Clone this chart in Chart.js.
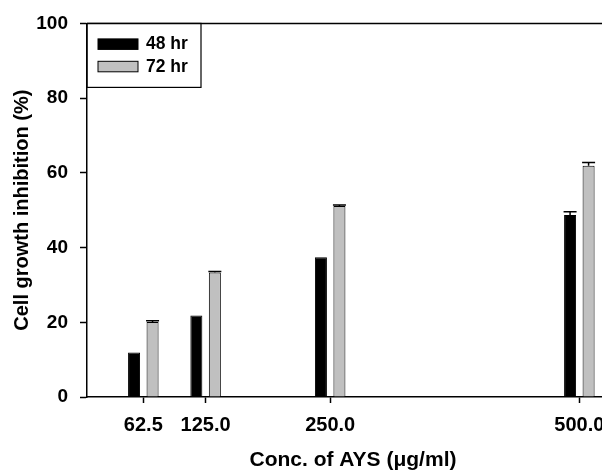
<!DOCTYPE html>
<html>
<head>
<meta charset="utf-8">
<script src="https://cdn.jsdelivr.net/npm/chart.js@4/dist/chart.umd.min.js"></script>
<style>
  html, body { margin: 0; padding: 0; overflow: hidden; background: #fff; width: 602px; height: 473px; }
  #wrap { width: 630px; height: 473px; position: relative; }
</style>
</head>
<body>
<div id="wrap"><canvas id="c"></canvas></div>
<script>
// ---- data ----
const concentrations = [62.5, 125.0, 250.0, 500.0];
const xTickValues = [62.5, 125.0, 250.0, 500.0];
const yTickValues = [0, 20, 40, 60, 80, 100];
const series48Label = '48 hr';
const series72Label = '72 hr';
const inhibition48 = [11.9, 21.8, 37.4, 48.7];
const inhibition72 = [20.1, 33.3, 51.1, 61.9];
const error48 = [0, 0, 0, 0.9];
const error72 = [0.3, 0.3, 0.3, 0.9];
const xTitle = 'Conc. of AYS (\u03bcg/ml)';
const yTitle = 'Cell growth inhibition (%)';

const FONT = "'Liberation Sans', Arial, sans-serif";

const errorBarPlugin = {
  id: 'errorBars',
  afterDatasetsDraw(chart) {
    const ctx = chart.ctx;
    const yScale = chart.scales.y;
    chart.data.datasets.forEach((ds, di) => {
      const meta = chart.getDatasetMeta(di);
      meta.data.forEach((el, i) => {
        const err = ds.errors[i];
        if (!err) return;
        const v = ds.data[i].y;
        const yTop = yScale.getPixelForValue(v + err);
        ctx.save();
        ctx.strokeStyle = '#000';
        ctx.lineWidth = 1.5;
        ctx.beginPath();
        ctx.moveTo(el.x, el.y);
        ctx.lineTo(el.x, yTop);
        ctx.moveTo(el.x - 6.5, yTop);
        ctx.lineTo(el.x + 6.5, yTop);
        ctx.stroke();
        ctx.restore();
      });
    });
  }
};

const framePlugin = {
  id: 'frame',
  afterDraw(chart) {
    const {ctx, chartArea} = chart;
    ctx.save();
    ctx.strokeStyle = '#000';
    ctx.lineWidth = 1.5;
    ctx.beginPath();
    ctx.moveTo(chartArea.left, chartArea.top);
    ctx.lineTo(chartArea.right, chartArea.top);
    ctx.lineTo(chartArea.right, chartArea.bottom);
    ctx.stroke();
    // legend box
    const lx = chartArea.left, ly = chartArea.top, lw = 114, lh = 64;
    ctx.lineWidth = 1.2;
    ctx.strokeRect(lx, ly, lw, lh);
    chart.data.datasets.forEach((ds, i) => {
      const sy = ly + 15.5 + i * 22.4;
      ctx.fillStyle = ds.backgroundColor;
      ctx.fillRect(lx + 11, sy, 40, 10.5);
      ctx.lineWidth = 1;
      ctx.strokeStyle = '#000';
      ctx.strokeRect(lx + 11, sy, 40, 10.5);
      ctx.fillStyle = '#000';
      ctx.font = "bold 17.5px " + FONT;
      ctx.textBaseline = 'middle';
      ctx.textAlign = 'left';
      ctx.fillText(ds.label, lx + 59, sy + 5.5);
    });
    ctx.restore();
  }
};

const chart = new Chart(document.getElementById('c'), {
  type: 'bar',
  data: {
    datasets: [
      {
        label: series48Label,
        data: concentrations.map((c, i) => ({x: c, y: inhibition48[i]})),
        errors: error48,
        backgroundColor: '#000000',
        borderColor: '#000000',
        borderWidth: 1
      },
      {
        label: series72Label,
        data: concentrations.map((c, i) => ({x: c, y: inhibition72[i]})),
        errors: error72,
        backgroundColor: '#c0c0c0',
        borderColor: '#000000',
        borderWidth: 1
      }
    ]
  },
  options: {
    responsive: true,
    maintainAspectRatio: false,
    animation: false,
    categoryPercentage: 0.594,
    barPercentage: 0.649,
    layout: { padding: { top: 22, right: 11, left: 0, bottom: 0 } },
    plugins: {
      legend: { display: false },
      tooltip: { enabled: false }
    },
    scales: {
      x: {
        type: 'linear',
        min: 6.0,
        max: 539.8,
        offset: false,
        grid: { offset: false, drawOnChartArea: false, drawTicks: true, tickLength: 6, tickColor: '#000', tickWidth: 1.5 },
        border: { display: true, color: '#000', width: 1.5 },
        afterBuildTicks: (axis) => { axis.ticks = xTickValues.map(v => ({value: v})); },
        afterFit: (axis) => { axis.height = 76; },
        ticks: {
          autoSkip: false,
          maxRotation: 0,
          padding: 10,
          color: '#000',
          font: { family: FONT, size: 20, weight: 'bold' },
          callback: (v) => Number(v).toFixed(1)
        },
        title: {
          display: true,
          text: xTitle,
          color: '#000',
          font: { family: FONT, size: 21, weight: 'bold' },
          padding: { top: 0, bottom: 0 }
        }
      },
      y: {
        min: 0,
        max: 100,
        grid: { drawOnChartArea: false, drawTicks: true, tickLength: 7, tickColor: '#000', tickWidth: 1.5 },
        border: { display: true, color: '#000', width: 1.5 },
        afterBuildTicks: (axis) => { axis.ticks = yTickValues.map(v => ({value: v})); },
        afterFit: (axis) => { axis.width = 87; },
        ticks: {
          padding: 12,
          color: '#000',
          font: { family: FONT, size: 19, weight: 'bold' },
          callback: (v) => String(v)
        },
        title: {
          display: true,
          text: yTitle,
          color: '#000',
          font: { family: FONT, size: 20, weight: 'bold' },
          padding: { top: 10, bottom: 0 }
        }
      }
    }
  },
  plugins: [errorBarPlugin, framePlugin]
});
</script>
</body>
</html>
